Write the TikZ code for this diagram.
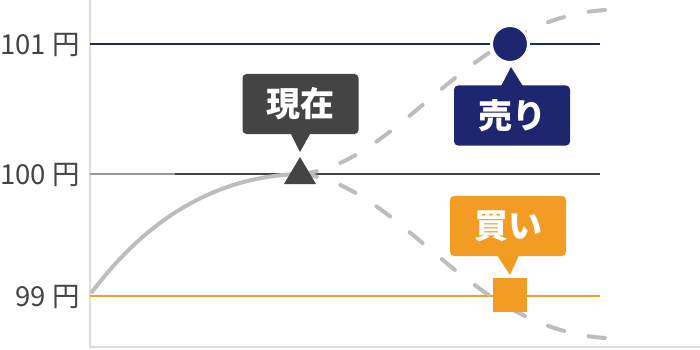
\documentclass[tikz,border=0pt]{standalone}
\usepackage{fontspec}
\setmainfont{Noto Sans CJK JP}
\usetikzlibrary{positioning,calc}

\definecolor{navy}{HTML}{1F2670}
\definecolor{orangebuy}{HTML}{F39C24}
\definecolor{darkbox}{HTML}{444444}
\definecolor{trendgray}{HTML}{BDBDBD}
\definecolor{axisgray}{HTML}{DDDDDD}

\begin{document}
\begin{tikzpicture}[
  x=1pt, y=-1pt,
  level/.style={line width=2pt},
  pricelabel/.style={anchor=east, inner sep=0pt, text=darkbox, font=\fontsize{27.5}{28}\selectfont},
  callout/.style={rounded corners=4pt, inner sep=0pt, minimum width=116pt, minimum height=60pt, text=white, font=\fontsize{34}{34}\selectfont\bfseries},
  trend/.style={trendgray, line width=4pt, line cap=round},
  future/.style={trend, dash pattern=on 17pt off 25pt}
]
\useasboundingbox (0,0) rectangle (700,350);

% axes
\draw[axisgray, line width=2pt] (90,0) -- (90,347) -- (700,347);

% price levels
\node[pricelabel] (p101) at (80,45) {101 円};
\node[pricelabel] (p100) at (80,175) {100 円};
\node[pricelabel] (p99) at (80,297) {99 円};
\coordinate (l101a) at (90,44);  \coordinate (l101b) at (600,44);
\coordinate (l100a) at (90,174); \coordinate (l100m) at (175,174); \coordinate (l100b) at (600,174);
\coordinate (l99a) at (90,296);  \coordinate (l99b) at (600,296);
\draw[level, navy] (l101a) -- (l101b);
\draw[level, gray!80] (l100a) -- (l100m);
\draw[level, darkbox] (l100m) -- (l100b);
\draw[level, orangebuy] (l99a) -- (l99b);

% price path
\coordinate (start) at (92,292);
\coordinate (now pt) at (300,174);
\coordinate (up end) at (605,10);
\coordinate (down end) at (605,338);
\draw[trend] (start) .. controls (150,215) and (220,176) .. (now pt);
\draw[future] (now pt) .. controls (400,165) and (465,20) .. (up end);
\draw[future] (now pt) .. controls (400,183) and (465,328) .. (down end);

% markers
\fill[darkbox] (284,184) -- (now pt |- 0,157) -- (316,184) -- cycle;
\node[circle, fill=navy, draw=white, line width=3pt, minimum size=37pt, inner sep=0pt] (sell pt) at (510,44) {};
\node[rectangle, fill=orangebuy, minimum size=34pt, inner sep=0pt] (buy pt) at (510,295) {};

% callouts
\node[callout, fill=darkbox] (now) at (300.5,104) {現在};
\fill[darkbox] ($(now.south)+(-10,-1)$) -- (300,152) -- ($(now.south)+(10,-1)$) -- cycle;
\node[callout, fill=navy] (sell) at (512,115.5) {売り};
\fill[navy] ($(sell.north)+(-11,1)$) -- (511,67) -- ($(sell.north)+(11,1)$) -- cycle;
\node[callout, fill=orangebuy] (buy) at (508,226) {買い};
\fill[orangebuy] ($(buy.south)+(-11,-1)$) -- (510,275) -- ($(buy.south)+(11,-1)$) -- cycle;
\end{tikzpicture}
\end{document}
